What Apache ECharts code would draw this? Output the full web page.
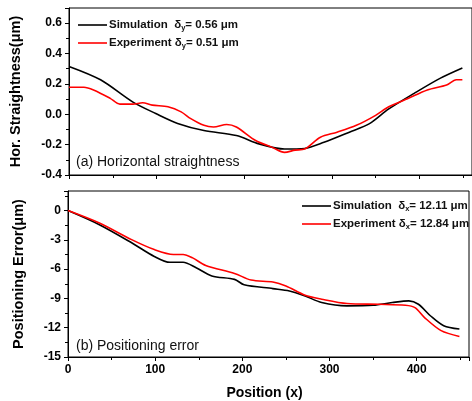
<!DOCTYPE html>
<html><head><meta charset="utf-8">
<script src="https://cdn.jsdelivr.net/npm/echarts@6/dist/echarts.min.js"></script>
<style>html,body{margin:0;padding:0;background:#fff}#c{width:472px;height:401px}</style>
</head><body><div id="c"></div>
<script>
// (a) Horizontal straightness
const simTopX = [0, 36, 73, 99, 124, 154, 191, 217, 246, 269, 291, 320, 343, 365, 394, 424, 449];
const simTopY = [0.315, 0.227, 0.08, 0.005, -0.06, -0.107, -0.14, -0.195, -0.229, -0.225, -0.185, -0.118, -0.062, 0.035, 0.138, 0.238, 0.305];
const expTopX = [0, 17, 28, 47, 58, 73, 84, 95, 113, 128, 139, 154, 165, 180, 191, 213, 232, 246, 258, 269, 287, 306, 328, 350, 365, 387, 409, 431, 442, 449];
const expTopY = [0.178, 0.178, 0.16, 0.105, 0.067, 0.067, 0.076, 0.06, 0.049, 0.016, -0.029, -0.073, -0.084, -0.067, -0.084, -0.173, -0.218, -0.251, -0.236, -0.229, -0.151, -0.118, -0.073, -0.007, 0.049, 0.104, 0.16, 0.193, 0.227, 0.227];
// (b) Positioning error
const simBotX = [0, 36, 73, 99, 117, 132, 147, 165, 191, 202, 235, 254, 272, 291, 320, 350, 372, 391, 402, 416, 431, 449];
const simBotY = [0, -1.45, -3.3, -4.7, -5.3, -5.3, -5.86, -6.7, -7.05, -7.6, -8.0, -8.24, -8.75, -9.42, -9.76, -9.7, -9.42, -9.25, -9.6, -10.8, -11.8, -12.14];
const expBotX = [0, 36, 73, 99, 121, 132, 143, 158, 191, 210, 235, 250, 272, 291, 320, 357, 387, 398, 409, 428, 449];
const expBotY = [0, -1.28, -2.98, -4.0, -4.5, -4.5, -4.85, -5.63, -6.44, -7.12, -7.32, -7.73, -8.68, -9.08, -9.52, -9.6, -9.7, -9.94, -10.96, -12.3, -12.9];
const xTicks = [0, 100, 200, 300, 400];
const topTicks = [-0.4, -0.2, 0.0, 0.2, 0.4, 0.6];
const botTicks = [-15, -12, -9, -6, -3, 0];

const FONT = 'Liberation Sans, Arial, sans-serif';
const pairs = (xs, ys) => xs.map((x, i) => [x, ys[i]]);

const chart = echarts.init(document.getElementById('c'));
const baseX = (gi, showLabel) => ({
  type: 'value', gridIndex: gi, min: 0, max: 460, interval: 100,
  axisLine: {show: true, onZero: false, lineStyle: {color: '#000', width: 1}},
  axisTick: {show: true, inside: false, length: 4, lineStyle: {color: '#000'}},
  minorTick: {show: true, splitNumber: 2, length: 3, lineStyle: {color: '#000'}},
  splitLine: {show: false},
  axisLabel: {show: showLabel, color: '#000', fontFamily: FONT, fontWeight: 'bold', fontSize: 12, margin: 7,
    formatter: v => xTicks.includes(v) ? String(v) : ''}
});
const legendRich = {
  a: {fontFamily: FONT, fontWeight: 'bold', fontSize: 11.5, color: '#111', lineHeight: 14},
  s: {fontFamily: FONT, fontWeight: 'bold', fontSize: 7.5, color: '#111', lineHeight: 14, padding: [6, 0, 0, 0]}
};
const legendNames = {
  'simA': '{a|Simulation  δ}{s|y}{a|= 0.56 μm}',
  'expA': '{a|Experiment δ}{s|y}{a|= 0.51 μm}',
  'simB': '{a|Simulation  δ}{s|x}{a|= 12.11 μm}',
  'expB': '{a|Experiment δ}{s|x}{a|= 12.84 μm}'
};
const legendBase = {orient: 'vertical', icon: 'rect', itemWidth: 29, itemHeight: 1.6, itemGap: 4, padding: 0,
  formatter: n => legendNames[n], textStyle: {rich: legendRich, padding: [0, 0, 0, -3]}};
chart.setOption({
  animation: false,
  backgroundColor: '#fff',
  grid: [
    {left: 68, right: -11, top: 8, height: 167, show: true, borderColor: '#000', borderWidth: 1, backgroundColor: 'transparent'},
    {left: 68, right: -11, top: 191, height: 167, show: true, borderColor: '#000', borderWidth: 1, backgroundColor: 'transparent'}
  ],
  xAxis: [
    baseX(0, false),
    Object.assign(baseX(1, true), {name: 'Position (x)', nameLocation: 'middle', nameGap: 29,
      nameTextStyle: {fontFamily: FONT, fontWeight: 'bold', fontSize: 14, color: '#000', padding: [0, 8, 0, 0]}})
  ],
  yAxis: [
    {type: 'value', gridIndex: 0, min: -0.4, max: 0.7, interval: 0.2,
      name: 'Hor. Straightness(μm)', nameLocation: 'middle', nameGap: 46, nameRotate: 90,
      nameTextStyle: {fontFamily: FONT, fontWeight: 'bold', fontSize: 14.5, color: '#000'},
      axisLine: {show: true, lineStyle: {color: '#000', width: 1}},
      axisTick: {show: true, length: 4, lineStyle: {color: '#000'}},
      minorTick: {show: true, splitNumber: 2, length: 3, lineStyle: {color: '#000'}},
      splitLine: {show: false},
      axisLabel: {color: '#000', fontFamily: FONT, fontWeight: 'bold', fontSize: 12, margin: 7,
        formatter: v => topTicks.some(t => Math.abs(t - v) < 1e-6) ? v.toFixed(1) : ''}},
    {type: 'value', gridIndex: 1, min: -15, max: 2, interval: 3,
      name: 'Positioning Error(μm)', nameLocation: 'middle', nameGap: 42, nameRotate: 90,
      nameTextStyle: {fontFamily: FONT, fontWeight: 'bold', fontSize: 14.5, color: '#000'},
      axisLine: {show: true, lineStyle: {color: '#000', width: 1}},
      axisTick: {show: true, length: 4, lineStyle: {color: '#000'}},
      minorTick: {show: true, splitNumber: 2, length: 3, lineStyle: {color: '#000'}},
      splitLine: {show: false},
      axisLabel: {color: '#000', fontFamily: FONT, fontWeight: 'bold', fontSize: 12, margin: 7,
        formatter: v => botTicks.includes(v) ? String(v) : ''}}
  ],
  legend: [
    Object.assign({data: ['simA', 'expA'], left: 78, top: 18}, legendBase),
    Object.assign({data: ['simB', 'expB'], left: 302, top: 199}, legendBase)
  ],
  graphic: [
    {type: 'text', left: 76, top: 155, style: {text: '(a) Horizontal straightness', font: '14px ' + FONT, fill: '#111'}},
    {type: 'text', left: 76, top: 339, style: {text: '(b) Positioning error', font: '14px ' + FONT, fill: '#111'}}
  ],
  series: [
    {name: 'simA', type: 'line', xAxisIndex: 0, yAxisIndex: 0, data: pairs(simTopX, simTopY), smooth: 0.3, symbol: 'none', lineStyle: {color: '#000', width: 1.6}, itemStyle: {color: '#000'}},
    {name: 'expA', type: 'line', xAxisIndex: 0, yAxisIndex: 0, data: pairs(expTopX, expTopY), smooth: 0.3, symbol: 'none', lineStyle: {color: '#ff0000', width: 1.6}, itemStyle: {color: '#ff0000'}},
    {name: 'simB', type: 'line', xAxisIndex: 1, yAxisIndex: 1, data: pairs(simBotX, simBotY), smooth: 0.3, symbol: 'none', lineStyle: {color: '#000', width: 1.6}, itemStyle: {color: '#000'}},
    {name: 'expB', type: 'line', xAxisIndex: 1, yAxisIndex: 1, data: pairs(expBotX, expBotY), smooth: 0.3, symbol: 'none', lineStyle: {color: '#ff0000', width: 1.6}, itemStyle: {color: '#ff0000'}}
  ]
});
</script></body></html>
